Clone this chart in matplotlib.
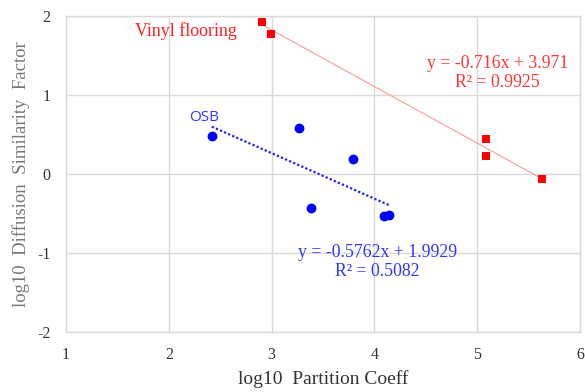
import numpy as np
import matplotlib.pyplot as plt

vinyl_x = [2.906, 2.993, 5.087, 5.087, 5.632]
vinyl_y = [1.924, 1.772, 0.439, 0.232, -0.067]
osb_x = [2.419, 3.266, 3.791, 3.379, 4.090, 4.139]
osb_y = [0.485, 0.582, 0.186, -0.427, -0.532, -0.523]

vinyl_fit = (-0.716, 3.971)
osb_fit = (-0.5762, 1.9929)

xticks = [1, 2, 3, 4, 5, 6]
yticks = [-2, -1, 0, 1, 2]

plt.rcParams['font.family'] = ['Liberation Serif', 'DejaVu Serif']
plt.rcParams['axes.unicode_minus'] = False

fig = plt.figure(figsize=(5.85, 3.92), dpi=100)
ax = fig.add_axes([66 / 585, 1 - 332 / 392, 514 / 585, 316 / 392])

grid_c = '#d9d9d9'
ax.set_xlim(1, 6)
ax.set_ylim(-2, 2)
ax.set_xticks(xticks)
ax.set_yticks(yticks)
ax.grid(True, color=grid_c, lw=1.0)
ax.set_axisbelow(True)
for s in ax.spines.values():
    s.set_color(grid_c)
    s.set_linewidth(1.0)
ax.tick_params(length=0, labelsize=11.5, colors='#333333', pad=11)

# trend lines
xv = np.array([min(vinyl_x), max(vinyl_x)])
ax.plot(xv, vinyl_fit[0] * xv + vinyl_fit[1], color='#ff9999', lw=0.8, zorder=2)
xo = np.array([min(osb_x), max(osb_x)])
ax.plot(xo, osb_fit[0] * xo + osb_fit[1], color='#2020ff', lw=1.6, ls=(0, (1, 1)), zorder=2)

ax.scatter(vinyl_x, vinyl_y, marker='s', s=32, color='#ff0000', zorder=3, linewidths=0)
ax.scatter(osb_x, osb_y, marker='o', s=50, color='#0000ff', zorder=3, linewidths=0)

ax.text(2.17, 1.81, 'Vinyl flooring', color='#ff2020', fontsize=13,
        ha='center', va='center')
ax.text(2.34, 0.72, 'OSB', color='#3333ff', fontsize=11, ha='center', va='center',
        family=['Open Sans', 'DejaVu Sans'])
ax.text(5.2, 1.28, 'y = -0.716x + 3.971\nR² = 0.9925', color='#ff3333',
        fontsize=12.8, ha='center', va='center', linespacing=1.15)
ax.text(4.03, -1.11, 'y = -0.5762x + 1.9929\nR² = 0.5082', color='#3333ff',
        fontsize=12.8, ha='center', va='center', linespacing=1.15)

ax.set_xlabel('log10  Partition Coeff', fontsize=14, color='#333333', labelpad=5)
ax.set_ylabel('log10  Diffusion  Similarity  Factor', fontsize=13.5, color='#777777',
              labelpad=5)

fig.savefig('out.png', dpi=100)
